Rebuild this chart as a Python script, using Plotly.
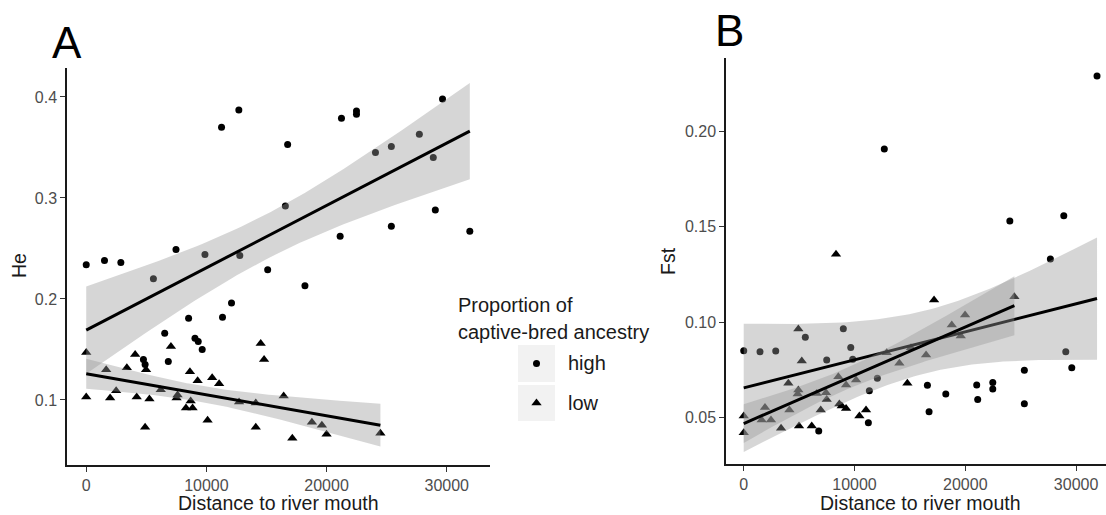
import numpy as np
import plotly.graph_objects as go

# ---------------- data ----------------
A_high_x = [0, 1520, 2880, 5590, 7470, 9880, 12780, 11260, 12700, 16760, 21240, 22490, 22490,
            24070, 25390, 27720, 29650, 28880, 29050, 25390, 21130, 31920, 16570, 15100, 18200,
            12090, 11340, 8520, 6530, 6830, 9050, 9320, 9650, 4760, 4900]
A_high_y = [0.234, 0.238, 0.236, 0.220, 0.249, 0.244, 0.243, 0.370, 0.387, 0.353, 0.379, 0.386, 0.383,
            0.345, 0.351, 0.363, 0.398, 0.340, 0.288, 0.272, 0.262, 0.267, 0.292, 0.229, 0.213,
            0.196, 0.182, 0.181, 0.166, 0.138, 0.161, 0.158, 0.150, 0.140, 0.135]

A_low_x = [0, 0, 1660, 1990, 2490, 3380, 4070, 4200, 4900, 4980, 5260, 6200, 7050, 7520, 7600,
           8630, 8300, 8690, 8850, 9270, 10100, 10480, 11060, 12720, 14110, 14110, 14520, 14800,
           16430, 17150, 18780, 19610, 20000, 24480]
A_low_y = [0.147, 0.103, 0.130, 0.102, 0.109, 0.132, 0.145, 0.103, 0.073, 0.130, 0.101, 0.110, 0.153,
           0.102, 0.105, 0.128, 0.092, 0.099, 0.092, 0.119, 0.080, 0.122, 0.116, 0.098, 0.097, 0.073,
           0.156, 0.140, 0.104, 0.062, 0.078, 0.075, 0.066, 0.067]

B_high_x = [0, 1470, 2890, 5560, 7490, 6770, 8990, 9660, 9840, 12060, 11340, 11250, 12690, 16580,
            16730, 18240, 21030, 21120, 22480, 22480, 24020, 25330, 25330, 27680, 28890, 29070,
            29610, 31890]
B_high_y = [0.0851, 0.0845, 0.0849, 0.0921, 0.0802, 0.0430, 0.0966, 0.0868, 0.0806, 0.0706, 0.0641,
            0.0474, 0.1906, 0.0670, 0.0531, 0.0624, 0.0671, 0.0596, 0.0685, 0.0650, 0.1529, 0.0748,
            0.0573, 0.1330, 0.1557, 0.0845, 0.0762, 0.2288]

B_low_x = [0, 0, 1620, 1920, 2460, 3370, 4030, 4120, 4870, 4930, 4930, 4990, 5240, 6140, 6590, 6950,
           7430, 7490, 8330, 8540, 8630, 8850, 9240, 9240, 10140, 10440, 11040, 12910, 14050, 14770,
           15100, 16460, 17180, 18780, 19590, 19980, 24430]
B_low_y = [0.0509, 0.0422, 0.0488, 0.0554, 0.0488, 0.0445, 0.0680, 0.0540, 0.0624, 0.0645, 0.0964,
           0.0457, 0.0797, 0.0457, 0.0627, 0.0540, 0.0631, 0.0596, 0.1355, 0.0715, 0.0572, 0.0561,
           0.0671, 0.0549, 0.0697, 0.0509, 0.0540, 0.0840, 0.0785, 0.0680, 0.0866, 0.0828, 0.1116,
           0.0985, 0.0928, 0.1037, 0.1133]

x_ticks = [0, 10000, 20000, 30000]
A_y_ticks = [0.1, 0.2, 0.3, 0.4]
B_y_ticks = [0.05, 0.10, 0.15, 0.20]
groups = ["high", "low"]
legend_title_lines = ["Proportion of", "captive-bred ancestry"]

# ---------------- helpers ----------------
W, H = 1106, 515
FONT = "Liberation Sans, Arial, Helvetica, sans-serif"


def px(x):
    return x / W


def py(y):
    return 1 - y / H


def t_quant(df):
    z = 1.959964
    g1 = (z**3 + z) / 4
    g2 = (5 * z**5 + 16 * z**3 + 3 * z) / 96
    g3 = (3 * z**7 + 19 * z**5 + 17 * z**3 - 15 * z) / 384
    return z + g1 / df + g2 / df**2 + g3 / df**3


def lm_band(x, y, n=80):
    x = np.asarray(x, float)
    y = np.asarray(y, float)
    b1, b0 = np.polyfit(x, y, 1)
    res = y - (b0 + b1 * x)
    k = len(x)
    s = np.sqrt(np.sum(res**2) / (k - 2))
    xbar = x.mean()
    sxx = np.sum((x - xbar) ** 2)
    xg = np.linspace(x.min(), x.max(), n)
    yh = b0 + b1 * xg
    se = s * np.sqrt(1 / k + (xg - xbar) ** 2 / sxx)
    t = t_quant(k - 2)
    return xg, yh, yh - t * se, yh + t * se


RIB = "rgba(153,153,153,0.4)"

fig = go.Figure()


def add_panel(xs_h, ys_h, xs_l, ys_l, xa, ya):
    fig.add_trace(go.Scatter(x=xs_h, y=ys_h, mode="markers", xaxis=xa, yaxis=ya,
                             marker=dict(symbol="circle", size=7, color="black"),
                             showlegend=False, hoverinfo="skip"))
    fig.add_trace(go.Scatter(x=xs_l, y=ys_l, mode="markers", xaxis=xa, yaxis=ya,
                             marker=dict(symbol="triangle-up", size=9, color="black"),
                             showlegend=False, hoverinfo="skip"))
    for xs, ys in ((xs_h, ys_h), (xs_l, ys_l)):
        xg, yh, lo, hi = lm_band(xs, ys)
        fig.add_trace(go.Scatter(x=np.concatenate([xg, xg[::-1]]),
                                 y=np.concatenate([hi, lo[::-1]]),
                                 fill="toself", fillcolor=RIB, line=dict(width=0),
                                 mode="lines", xaxis=xa, yaxis=ya,
                                 showlegend=False, hoverinfo="skip"))
        fig.add_trace(go.Scatter(x=xg, y=yh, mode="lines", xaxis=xa, yaxis=ya,
                                 line=dict(color="black", width=3),
                                 showlegend=False, hoverinfo="skip"))


add_panel(A_high_x, A_high_y, A_low_x, A_low_y, "x", "y")
add_panel(B_high_x, B_high_y, B_low_x, B_low_y, "x2", "y2")

# legend keys (on a hidden helper axis)
fig.add_trace(go.Scatter(x=[0.5], y=[0.757], mode="markers", xaxis="x3", yaxis="y3",
                         marker=dict(symbol="circle", size=7, color="black"),
                         showlegend=False, hoverinfo="skip"))
fig.add_trace(go.Scatter(x=[0.5], y=[0.237], mode="markers", xaxis="x3", yaxis="y3",
                         marker=dict(symbol="triangle-up", size=9, color="black"),
                         showlegend=False, hoverinfo="skip"))

axis_common = dict(showline=True, linecolor="#1a1a1a", linewidth=1.5, ticks="outside",
                   ticklen=5, tickwidth=1.3, tickcolor="#333333", showgrid=False,
                   zeroline=False, tickfont=dict(family=FONT, size=16, color="#4d4d4d"))

fig.update_layout(
    width=W, height=H, margin=dict(l=0, r=0, t=0, b=0),
    paper_bgcolor="white", plot_bgcolor="white", showlegend=False,
    font=dict(family=FONT),
    xaxis=dict(domain=[px(67), px(490)], range=[-1600, 33600], anchor="y",
               tickvals=x_ticks, tickformat="d", **axis_common),
    yaxis=dict(domain=[py(465), py(68)], range=[0.0356, 0.4287], anchor="x",
               tickvals=A_y_ticks, tickformat=".1f", **axis_common),
    xaxis2=dict(domain=[px(726), 1.0], range=[-1600, 32700], anchor="y2",
                tickvals=x_ticks, tickformat="d", **axis_common),
    yaxis2=dict(domain=[py(464), py(58)], range=[0.0258, 0.2382], anchor="x2",
                tickvals=B_y_ticks, tickformat=".2f", **axis_common),
    xaxis3=dict(domain=[px(518), px(555)], range=[0, 1], visible=False, anchor="y3"),
    yaxis3=dict(domain=[py(421), py(345)], range=[0, 1], visible=False, anchor="x3"),
)

# legend key backgrounds
for y0, y1 in ((345, 382), (385, 421)):
    fig.add_shape(type="rect", xref="paper", yref="paper", x0=px(518), x1=px(555),
                  y0=py(y1), y1=py(y0), fillcolor="#f2f2f2", line=dict(width=0), layer="below")

ann = []
TXT = "#1a1a1a"
ann.append(dict(text="A", x=px(50), y=py(42), xanchor="left", yanchor="middle",
                font=dict(size=44, color="black")))
ann.append(dict(text="B", x=px(713), y=py(31), xanchor="left", yanchor="middle",
                font=dict(size=44, color="black")))
ann.append(dict(text="Distance to river mouth", x=px(278), y=py(503), xanchor="center",
                yanchor="middle", font=dict(size=19.5, color=TXT)))
ann.append(dict(text="Distance to river mouth", x=px(920), y=py(503), xanchor="center",
                yanchor="middle", font=dict(size=19.5, color=TXT)))
ann.append(dict(text="He", x=px(19), y=py(266), xanchor="center", yanchor="middle",
                textangle=-90, font=dict(size=19.5, color=TXT)))
ann.append(dict(text="Fst", x=px(668), y=py(261), xanchor="center", yanchor="middle",
                textangle=-90, font=dict(size=19.5, color=TXT)))
ann.append(dict(text=legend_title_lines[0], x=px(456), y=py(305), xanchor="left",
                yanchor="middle", font=dict(size=20, color=TXT)))
ann.append(dict(text=legend_title_lines[1], x=px(456), y=py(332), xanchor="left",
                yanchor="middle", font=dict(size=20, color=TXT)))
ann.append(dict(text=groups[0], x=px(566), y=py(363), xanchor="left", yanchor="middle",
                font=dict(size=20, color=TXT)))
ann.append(dict(text=groups[1], x=px(566), y=py(403), xanchor="left", yanchor="middle",
                font=dict(size=20, color=TXT)))
for a in ann:
    a.update(xref="paper", yref="paper", showarrow=False)
    a["font"]["family"] = FONT
fig.update_layout(annotations=ann)

fig.write_html("out.html")
